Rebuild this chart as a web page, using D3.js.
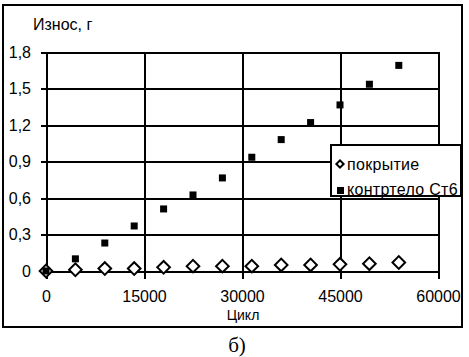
<!DOCTYPE html>
<html lang="ru">
<head>
<meta charset="UTF-8">
<script src="https://cdn.jsdelivr.net/npm/d3@7"></script>
<style>
  body { margin: 0; background: #fff; }
  svg text { font-family: "Liberation Sans", Arial, sans-serif; fill: #000; }
</style>
</head>
<body>
<script>
// data
const cycles = [0, 4500, 9000, 13500, 18000, 22500, 27000, 31500, 36000, 40500, 45000, 49500, 54000];
const coating = [0, 0.01, 0.02, 0.02, 0.03, 0.04, 0.04, 0.04, 0.05, 0.05, 0.055, 0.06, 0.07];
const counterbody = [0, 0.1, 0.23, 0.37, 0.51, 0.625, 0.765, 0.935, 1.08, 1.22, 1.365, 1.535, 1.69];
const xTicks = [0, 15000, 30000, 45000, 60000];
const yTicks = [0, 0.3, 0.6, 0.9, 1.2, 1.5, 1.8];
const yTickLabels = ["0", "0,3", "0,6", "0,9", "1,2", "1,5", "1,8"];
const seriesNames = ["покрытие", "контртело Ст6"];

const W = 469, H = 357;
const svg = d3.select("body").append("svg").attr("width", W).attr("height", H);

const x = d3.scaleLinear().domain([0, 60000]).range([46, 438]);
const y = d3.scaleLinear().domain([0, 1.8]).range([271, 52]);

// outer frame
svg.append("rect")
  .attr("x", 3).attr("y", 5).attr("width", 459).attr("height", 322)
  .attr("fill", "none").attr("stroke", "#000").attr("stroke-width", 2);

// horizontal grid + y labels
const yAxis = svg.append("g")
  .attr("transform", "translate(41,0)")
  .call(d3.axisLeft(y).tickValues(yTicks)
    .tickFormat((d, i) => yTickLabels[i])
    .tickSize(-(438 - 41)).tickPadding(10));

// vertical grid + x labels
const xAxis = svg.append("g")
  .attr("transform", "translate(0,279)")
  .call(d3.axisBottom(x).tickValues(xTicks)
    .tickFormat(d3.format("d"))
    .tickSize(-(279 - 52)).tickPadding(12));

[yAxis, xAxis].forEach(g => {
  g.select(".domain").remove();
  g.selectAll(".tick line").attr("stroke", "#000").attr("stroke-width", 2)
    .attr("shape-rendering", "crispEdges");
  g.selectAll(".tick text").style("font-size", "16px").attr("fill", "#000");
});

// titles
svg.append("text").attr("x", 33).attr("y", 30)
  .style("font-size", "16px").text("Износ, г");
svg.append("text").attr("x", 243).attr("y", 320).attr("text-anchor", "middle")
  .style("font-size", "14px").text("Цикл");
svg.append("text").attr("x", 237).attr("y", 352).attr("text-anchor", "middle")
  .style("font-family", "'Liberation Serif', 'Times New Roman', serif")
  .style("font-size", "21px").text("б)");

// coating: open diamonds
const diamond = d3.symbol().type(d3.symbolSquare).size(80);
svg.append("g").selectAll("path")
  .data(cycles)
  .enter()
  .append("path")
  .attr("d", diamond)
  .attr("transform", (d, i) => "translate(" + x(d) + "," + y(coating[i]) + ") rotate(45)")
  .attr("fill", "#fff").attr("stroke", "#000").attr("stroke-width", 2);

// counterbody: filled squares
svg.append("g").selectAll("rect")
  .data(cycles)
  .enter()
  .append("rect")
  .attr("x", d => x(d) - 3.5)
  .attr("y", (d, i) => y(counterbody[i]) - 3.5)
  .attr("width", 7).attr("height", 7)
  .attr("fill", "#000");

// legend
const lg = svg.append("g");
lg.append("rect")
  .attr("x", 331).attr("y", 145).attr("width", 130).attr("height", 51)
  .attr("fill", "#fff").attr("stroke", "#000").attr("stroke-width", 2);
lg.append("path")
  .attr("d", d3.symbol().type(d3.symbolSquare).size(26))
  .attr("transform", "translate(340,164) rotate(45)")
  .attr("fill", "#fff").attr("stroke", "#000").attr("stroke-width", 2);
lg.append("rect").attr("x", 337).attr("y", 187).attr("width", 7).attr("height", 7).attr("fill", "#000");
lg.selectAll("text")
  .data(seriesNames)
  .enter()
  .append("text")
  .attr("x", 347)
  .attr("y", (d, i) => 170 + i * 25)
  .style("font-size", "16px")
  .style("letter-spacing", "0.3px")
  .text(d => d);
</script>
</body>
</html>
